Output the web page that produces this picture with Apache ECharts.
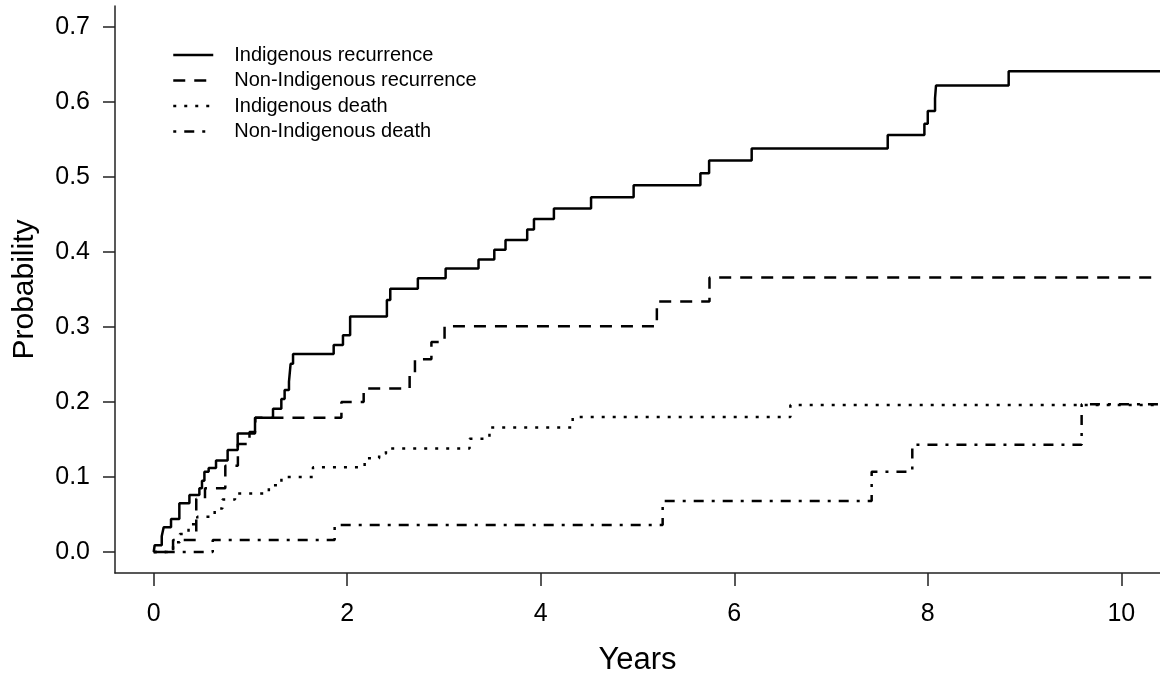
<!DOCTYPE html>
<html>
<head>
<meta charset="utf-8">
<script src="https://cdn.jsdelivr.net/npm/echarts@6/dist/echarts.min.js"></script>
<style>
  html, body { margin: 0; padding: 0; background: #fff; }
  #chart { width: 1160px; height: 681px; }
</style>
</head>
<body>
<div id="chart"></div>
<script>
// ---- data ----
const seriesNames = ['Indigenous recurrence', 'Non-Indigenous recurrence', 'Indigenous death', 'Non-Indigenous death'];

const indigRecT = [0, 0.01, 0.083, 0.103, 0.179, 0.265, 0.369, 0.472, 0.499, 0.524, 0.568, 0.644, 0.764, 0.868, 1.047, 1.233, 1.319, 1.353, 1.398, 1.415, 1.44, 1.86, 1.956, 2.03, 2.41, 2.445, 2.73, 3.017, 3.357, 3.52, 3.636, 3.86, 3.93, 4.136, 4.52, 4.96, 5.65, 5.74, 6.18, 7.586, 7.965, 8.0, 8.075, 8.085, 8.836, 10.4];
const indigRecP = [0, 0.009, 0.021, 0.033, 0.044, 0.065, 0.076, 0.085, 0.095, 0.107, 0.112, 0.122, 0.136, 0.158, 0.179, 0.191, 0.204, 0.216, 0.227, 0.251, 0.264, 0.276, 0.289, 0.314, 0.336, 0.351, 0.365, 0.378, 0.390, 0.403, 0.416, 0.430, 0.444, 0.458, 0.473, 0.489, 0.505, 0.522, 0.538, 0.556, 0.571, 0.588, 0.605, 0.622, 0.641, 0.641];

const nonIndigRecT = [0, 0.2, 0.44, 0.53, 0.74, 0.87, 0.99, 1.05, 1.94, 2.17, 2.645, 2.70, 2.87, 3.006, 5.20, 5.744, 10.4];
const nonIndigRecP = [0, 0.016, 0.071, 0.085, 0.115, 0.144, 0.160, 0.179, 0.200, 0.218, 0.238, 0.257, 0.280, 0.301, 0.334, 0.366, 0.366];

const indigDeathT = [0, 0.2, 0.27, 0.36, 0.45, 0.63, 0.71, 0.84, 1.19, 1.32, 1.646, 2.18, 2.33, 2.40, 3.264, 3.47, 4.33, 6.58, 10.4];
const indigDeathP = [0, 0.013, 0.024, 0.037, 0.047, 0.058, 0.070, 0.078, 0.089, 0.100, 0.113, 0.125, 0.131, 0.138, 0.151, 0.166, 0.180, 0.196, 0.196];

const nonIndigDeathT = [0, 0.61, 1.87, 5.26, 7.42, 7.84, 9.59, 10.4];
const nonIndigDeathP = [0, 0.016, 0.036, 0.068, 0.107, 0.143, 0.197, 0.197];

const xTicks = [0, 2, 4, 6, 8, 10];
const yTicks = [0, 0.1, 0.2, 0.3, 0.4, 0.5, 0.6, 0.7];
const xTitle = 'Years';
const yTitle = 'Probability';

// ---- build chart ----
const zip = (t, p) => t.map((v, i) => [v, p[i]]);
const FONT = '"Liberation Sans", Arial, sans-serif';
const dashes = ['solid', [12, 9], [3, 8], [3, 8, 10, 8]];
const allData = [
  zip(indigRecT, indigRecP),
  zip(nonIndigRecT, nonIndigRecP),
  zip(indigDeathT, indigDeathP),
  zip(nonIndigDeathT, nonIndigDeathP)
];

const chart = echarts.init(document.getElementById('chart'), null, { renderer: 'canvas' });
chart.setOption({
  animation: false,
  backgroundColor: '#fff',
  textStyle: { fontFamily: FONT, color: '#000' },
  grid: { left: 115, right: 0, top: 6, bottom: 107, containLabel: false },
  legend: {
    orient: 'vertical',
    left: 167,
    top: 40,
    itemWidth: 40,
    itemHeight: 14,
    itemGap: 5.5,
    data: seriesNames,
    itemStyle: { opacity: 0 },
    lineStyle: { width: 2.5 },
    textStyle: { fontFamily: FONT, fontSize: 20, color: '#000', lineHeight: 20, padding: [0, 0, 0, 16] }
  },
  xAxis: {
    type: 'value',
    min: -0.4,
    max: 10.4,
    name: xTitle,
    nameLocation: 'middle',
    nameGap: 72,
    nameTextStyle: { fontFamily: FONT, fontSize: 31, color: '#000' },
    axisLine: { show: true, onZero: false, lineStyle: { color: '#222', width: 1.5 } },
    axisTick: { show: true, length: 13, customValues: xTicks, lineStyle: { color: '#222', width: 1.5 } },
    axisLabel: { customValues: xTicks, margin: 29, fontSize: 25, color: '#000', fontFamily: FONT },
    splitLine: { show: false }
  },
  yAxis: {
    type: 'value',
    min: -0.028,
    max: 0.728,
    name: yTitle,
    nameLocation: 'middle',
    nameGap: 75,
    nameTextStyle: { fontFamily: FONT, fontSize: 30, color: '#000' },
    axisLine: { show: true, onZero: false, lineStyle: { color: '#222', width: 1.5 } },
    axisTick: { show: true, length: 12, customValues: yTicks, lineStyle: { color: '#222', width: 1.5 } },
    axisLabel: {
      customValues: yTicks, margin: 25, fontSize: 25, color: '#000', fontFamily: FONT,
      formatter: v => v.toFixed(1)
    },
    splitLine: { show: false }
  },
  series: seriesNames.map((name, i) => ({
    name: name,
    type: 'line',
    step: 'end',
    data: allData[i],
    symbol: 'none',
    clip: true,
    color: '#000',
    lineStyle: { color: '#000', width: 2.5, type: dashes[i], cap: 'butt' },
    itemStyle: { color: '#000' }
  }))
});
</script>
</body>
</html>
